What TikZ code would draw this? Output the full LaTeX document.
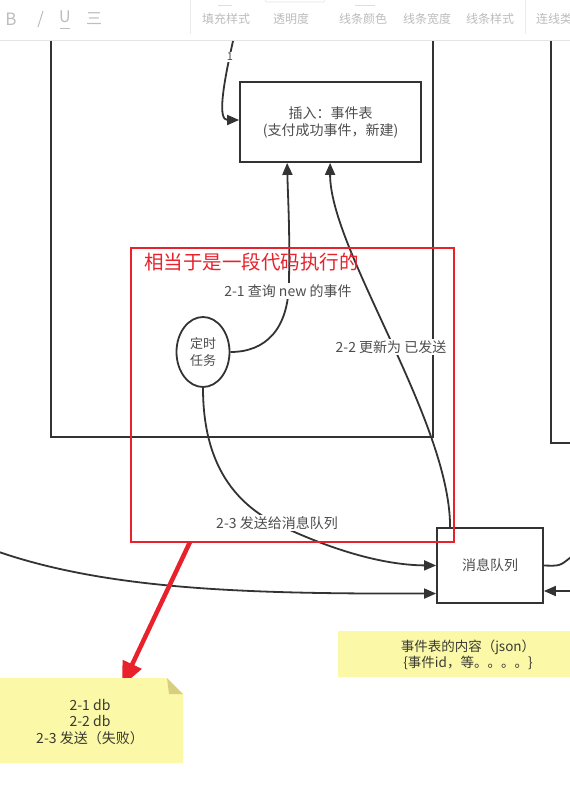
\documentclass[tikz,border=0pt]{standalone}
\usepackage{fontspec}
\usepackage{xcolor}
\usetikzlibrary{arrows.meta,shapes.geometric}
\newfontfamily\cjk{Noto Sans CJK SC}

\begin{document}
\begin{tikzpicture}[x=1pt,y=-1pt,
  ink/.style={draw=inkgray,line width=1.8pt},
  conn/.style={ink,-{Triangle[length=12pt,width=10pt]}},
  box/.style={ink,rectangle,inner sep=0pt,text=txtgray,align=center,font=\cjk\fontsize{14}{17}\selectfont},
  lbl/.style={fill=white,inner sep=1.5pt,text=txtgray,font=\cjk\fontsize{14}{15}\selectfont},
  tool/.style={text=toolgray,inner sep=0pt,font=\cjk\fontsize{12}{14}\selectfont},
  notetxt/.style={text=notetext,align=center,inner sep=0pt,font=\cjk\fontsize{14}{16.5}\selectfont}]
\definecolor{inkgray}{HTML}{333333}
\definecolor{txtgray}{HTML}{4D4D4D}
\definecolor{toolgray}{HTML}{BDBDBD}
\definecolor{redmark}{HTML}{E8212B}
\definecolor{notey}{HTML}{FBF8A8}
\definecolor{foldy}{HTML}{D6D07E}
\definecolor{notetext}{HTML}{3A3A30}
\clip (0,0) rectangle (570,788);
\fill[white] (0,0) rectangle (570,788);

% toolbar
\draw[toolgray!40,line width=1pt] (0,40) -- (570,40);
\draw[toolgray!30,line width=0.8pt] (190,0) -- (190,34) (525,0) -- (525,34);
\draw[toolgray!50,line width=0.8pt] (218,5) -- (232,5) (355,5) -- (375,5);
\draw[toolgray!40,line width=0.6pt,rounded corners=2pt] (265,-6) rectangle (325,2);
\node[tool,font=\cjk\fontsize{17}{17}\selectfont] (tbold) at (11,19) {B};
\draw[toolgray,line width=1pt] (38,27) -- (43,11);
\node[tool,font=\cjk\fontsize{16}{16}\selectfont] (tunder) at (65,17) {U};
\draw[toolgray,line width=0.8pt] (60,28) -- (70,28);
\node[tool,font=\cjk\fontsize{16}{16}\selectfont] (tstrike) at (94,19) {三};
\foreach \lbl/\xc [count=\i] in {填充样式/226,透明度/291,线条颜色/363,线条宽度/427,线条样式/490}
  { \node[tool] (tb\i) at (\xc,19) {\lbl}; }
\node[tool,anchor=west] (tblink) at (536,19) {连线类};

% frames
\draw[ink] (51,41) -- (51,437) -- (433,437) -- (433,41);
\draw[ink] (551,41) -- (551,443) -- (571,443);

% nodes
\node[box,minimum width=181pt,minimum height=80pt] (insert) at (330.5,122) {插入：事件表\\(支付成功事件，新建)};
\node[box,ellipse,minimum width=53pt,minimum height=70pt,font=\cjk\fontsize{13}{17}\selectfont] (timer) at (203,352) {定时\\任务};
\node[box,minimum width=106pt,minimum height=75pt] (mq) at (490,565.5) {消息队列};

% connectors
\coordinate (top1) at (233,41);
\draw[conn] (top1) .. controls (222,90) and (218,120) .. ([yshift=2pt]insert.west);
\draw[conn] (timer.east) .. controls (265,352) and (289,330) .. (289,280)
  .. controls (290,230) and (288,200) .. ([xshift=48pt]insert.south west);
\draw[conn] ([xshift=14pt]mq.north west) .. controls (450,420) and (330,250) .. ([xshift=91pt]insert.south west);
\draw[conn] (timer.south) .. controls (203,470) and (240,510) .. (290,530)
  .. controls (330,548) and (380,565) .. (mq.west);
\coordinate (lin) at (-1,552);
\draw[conn] (lin) .. controls (110,590) and (250,594) .. ([yshift=-28pt]mq.west);
\coordinate (rout) at (571,557);
\draw[ink] (mq.east) .. controls (560,566) .. (rout);
\coordinate (rin) at (571,591);
\draw[conn] (rin) -- (mq.east |- rin);

% labels
\node[lbl,font=\cjk\fontsize{11}{13}\selectfont] (l1) at (230,57) {1};
\node[lbl] (l21) at (288,291) {2-1 查询 new 的事件};
\node[lbl] (l22) at (391,347) {2-2 更新为 已发送};
\node[lbl] (l23) at (277,523) {2-3 发送给消息队列};

% red remark
\draw[redmark,line width=2pt] (131,248) rectangle (454,542);
\node[anchor=west,text=redmark,inner sep=0pt,font=\cjk\fontsize{19.5}{22}\selectfont] (remark) at (144,262) {相当于是一段代码执行的};
\coordinate (rfrom) at (190,542);
\coordinate (rto) at (122,686);
\draw[redmark,line width=4.5pt,-{Triangle[length=24pt,width=20pt]}] (rfrom) -- (rto);

% notes
\fill[notey] (338,631) rectangle (571,677);
\node[notetxt,font=\cjk\fontsize{13.5}{16}\selectfont] (json) at (468,655) {事件表的内容（json）\\\{事件id，等。。。。\}};
\fill[notey] (-1,678) -- (167,678) -- (183,694) -- (183,763) -- (-1,763) -- cycle;
\fill[foldy] (167,678) -- (183,694) -- (169,694) -- cycle;
\node[notetxt] (fail) at (90,722) {2-1 db\\2-2 db\\2-3 发送（失败）};
\end{tikzpicture}
\end{document}
